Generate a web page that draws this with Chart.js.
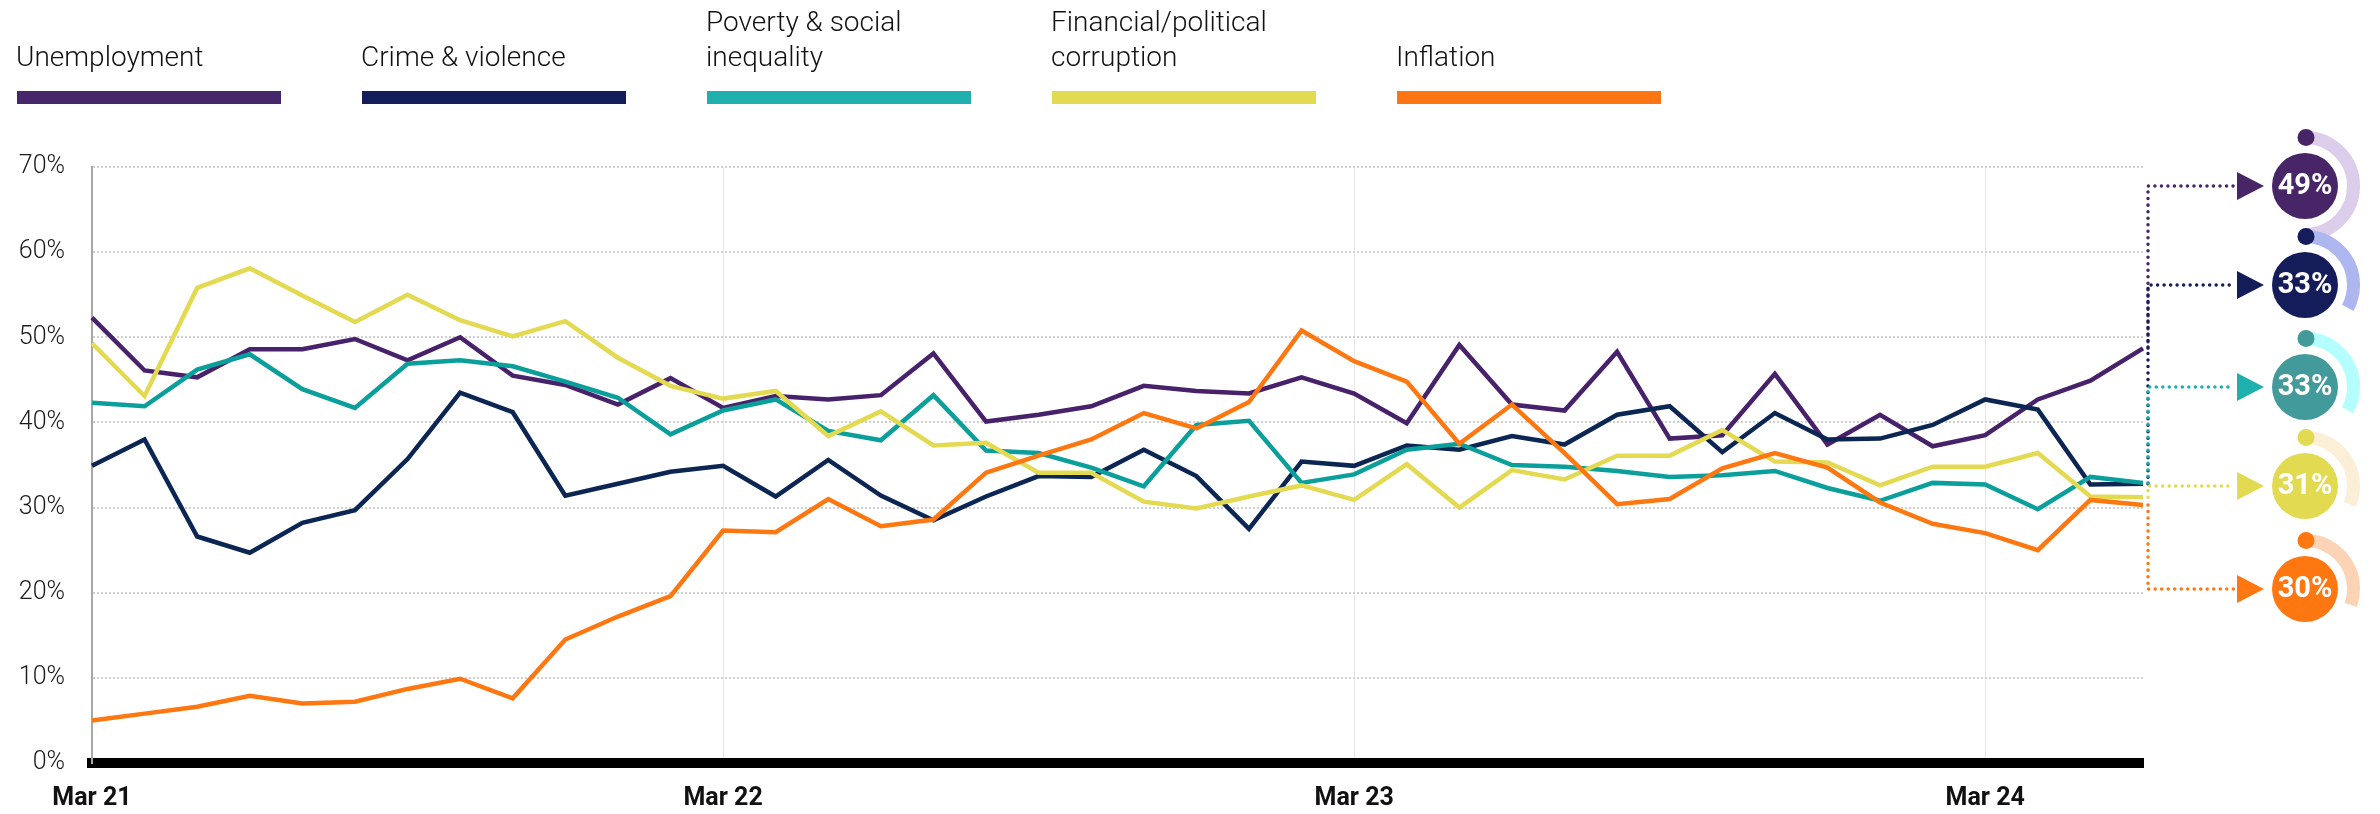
<!DOCTYPE html>
<html>
<head>
<meta charset="utf-8">
<script src="https://cdn.jsdelivr.net/npm/chart.js@4.4.1/dist/chart.umd.min.js"></script>
<style>
  html, body { margin: 0; padding: 0; background: #fff; }
  #wrap { position: relative; width: 2380px; height: 814px; }
</style>
</head>
<body>
<div id="wrap"><canvas id="chart"></canvas></div>
<script>
// Monthly readings, Mar 21 -> Jun 24
const months = [
    'Mar 21', 'Apr 21', 'May 21', 'Jun 21', 'Jul 21', 'Aug 21', 'Sep 21', 'Oct 21', 'Nov 21', 'Dec 21', 'Jan 22', 'Feb 22',
    'Mar 22', 'Apr 22', 'May 22', 'Jun 22', 'Jul 22', 'Aug 22', 'Sep 22', 'Oct 22', 'Nov 22', 'Dec 22', 'Jan 23', 'Feb 23',
    'Mar 23', 'Apr 23', 'May 23', 'Jun 23', 'Jul 23', 'Aug 23', 'Sep 23', 'Oct 23', 'Nov 23', 'Dec 23', 'Jan 24', 'Feb 24',
    'Mar 24', 'Apr 24', 'May 24', 'Jun 24'
];
const yearTicks = ['Mar 21', 'Mar 22', 'Mar 23', 'Mar 24'];

const seriesNames = ['Unemployment', 'Crime & violence', 'Poverty & social inequality', 'Financial/political corruption', 'Inflation'];
const legendLines = [['Unemployment'], ['Crime & violence'], ['Poverty & social', 'inequality'], ['Financial/political', 'corruption'], ['Inflation']];

const unemployment = [52.3, 46.1, 45.3, 48.6, 48.6, 49.8, 47.3, 50.0, 45.5, 44.4, 42.1, 45.2,
    41.7, 43.1, 42.7, 43.2, 48.1, 40.1, 40.9, 41.9, 44.3, 43.7, 43.4, 45.3,
    43.4, 39.9, 49.1, 42.1, 41.4, 48.3, 38.1, 38.5, 45.7, 37.4, 40.9, 37.2,
    38.5, 42.7, 44.9, 48.7];
const crime = [34.9, 38.0, 26.6, 24.7, 28.2, 29.7, 35.7, 43.5, 41.2, 31.4, 32.8, 34.2,
    34.9, 31.3, 35.6, 31.4, 28.5, 31.3, 33.7, 33.6, 36.8, 33.7, 27.5, 35.4,
    34.9, 37.3, 36.8, 38.4, 37.4, 40.9, 41.9, 36.5, 41.1, 38.0, 38.1, 39.7,
    42.7, 41.5, 32.7, 32.8];
const poverty = [42.3, 41.9, 46.2, 48.0, 43.9, 41.7, 46.9, 47.3, 46.6, 44.8, 42.9, 38.6,
    41.4, 42.7, 39.0, 37.9, 43.2, 36.7, 36.4, 34.7, 32.5, 39.7, 40.2, 32.9,
    33.9, 36.8, 37.5, 35.0, 34.8, 34.3, 33.6, 33.8, 34.3, 32.3, 30.8, 32.9,
    32.7, 29.8, 33.6, 32.9];
const corruption = [49.3, 43.1, 55.8, 58.1, 54.9, 51.8, 55.0, 52.0, 50.1, 51.9, 47.6, 44.3,
    42.8, 43.7, 38.4, 41.3, 37.3, 37.6, 34.1, 34.1, 30.7, 29.9, 31.3, 32.6,
    30.9, 35.1, 30.0, 34.4, 33.3, 36.1, 36.1, 39.1, 35.4, 35.3, 32.6, 34.8,
    34.8, 36.4, 31.3, 31.2];
const inflation = [5.0, 5.8, 6.6, 7.9, 7.0, 7.2, 8.7, 9.9, 7.6, 14.5, 17.2, 19.6,
    27.3, 27.1, 31.0, 27.8, 28.6, 34.1, 36.1, 38.0, 41.1, 39.3, 42.4, 50.8,
    47.2, 44.8, 37.5, 42.1, 36.4, 30.4, 31.0, 34.6, 36.4, 34.7, 30.6, 28.1,
    27.0, 25.0, 30.9, 30.3];

// colours
const lineColors = ['#47226b', '#0c2653', '#0a9f9b', '#e3da52', '#ff7711'];
const legendColors = ['#48266a', '#131d5a', '#1fafad', '#e2da50', '#fe7614'];
const badgeColors = ['#472567', '#141c5a', '#439a9a', '#e2da50', '#ff7711'];
const arrowColors = ['#472567', '#141c5a', '#1fb0ad', '#e2da50', '#ff7711'];
const ringColors = ['#dccdea', '#adb6ee', '#b4fefe', '#fbefd8', '#fdd3b5'];
const badgeY = [186, 285, 387, 486, 589];

const allSeries = [unemployment, crime, poverty, corruption, inflation];
const drawOrder = [5, 4, 3, 2, 1];

// Legend + end-of-line badges
const extras = {
    id: 'extras',
    afterDraw(chart) {
        const ctx = chart.ctx;
        const xs = chart.scales.x, ys = chart.scales.y;
        ctx.save();

        // legend
        legendLines.forEach((lines, i) => {
            const x = 17 + i * 345;
            ctx.fillStyle = legendColors[i];
            ctx.fillRect(x, 91, 264, 13);
            ctx.fillStyle = '#111';
            ctx.font = '300 28px Roboto';
            ctx.textAlign = 'left';
            ctx.textBaseline = 'alphabetic';
            lines.forEach((t, j) => ctx.fillText(t, x - 1, 66 - (lines.length - 1 - j) * 35));
        });

        // badges
        const last = months.length - 1;
        const vx = xs.getPixelForValue(last) + 5;
        const cx = 2305;
        allSeries.forEach((data, i) => {
            const yEnd = ys.getPixelForValue(data[last]);
            const cy = badgeY[i];

            ctx.setLineDash([0.01, 6.5]);
            ctx.lineCap = 'round';
            ctx.lineWidth = 3.5;
            ctx.strokeStyle = arrowColors[i];
            ctx.beginPath();
            ctx.moveTo(vx, yEnd);
            ctx.lineTo(vx, cy);
            ctx.lineTo(2234, cy);
            ctx.stroke();
            ctx.setLineDash([]);

            ctx.fillStyle = arrowColors[i];
            ctx.beginPath();
            ctx.moveTo(2237, cy - 14);
            ctx.lineTo(2264, cy);
            ctx.lineTo(2237, cy + 14);
            ctx.closePath();
            ctx.fill();

            // ring shows the share of a full turn
            ctx.lineCap = 'butt';
            ctx.lineWidth = 13;
            ctx.strokeStyle = ringColors[i];
            ctx.beginPath();
            ctx.arc(cx, cy, 48.5, -Math.PI / 2, -Math.PI / 2 + data[last] / 100 * Math.PI * 2);
            ctx.stroke();

            ctx.fillStyle = badgeColors[i];
            ctx.beginPath();
            ctx.arc(cx + 1, cy - 48.5, 8.5, 0, Math.PI * 2);
            ctx.fill();

            ctx.beginPath();
            ctx.arc(cx, cy, 33, 0, Math.PI * 2);
            ctx.fill();

            ctx.fillStyle = '#fff';
            ctx.font = 'bold 29px Roboto';
            ctx.textAlign = 'center';
            ctx.textBaseline = 'middle';
            ctx.fillText(Math.round(data[last]) + '%', cx, cy + 1);
        });
        ctx.restore();
    }
};

new Chart(document.getElementById('chart'), {
    type: 'line',
    data: {
        labels: months,
        datasets: allSeries.map((data, i) => ({
            label: seriesNames[i],
            data: data,
            borderColor: lineColors[i],
            backgroundColor: lineColors[i],
            borderWidth: 4.5,
            pointRadius: 0,
            tension: 0,
            order: drawOrder[i]
        }))
    },
    options: {
        responsive: true,
        maintainAspectRatio: false,
        animation: false,
        layout: { padding: { left: 0, right: 237, top: 167, bottom: 0 } },
        plugins: { legend: { display: false }, tooltip: { enabled: false } },
        scales: {
            x: {
                afterFit: (s) => { s.height = 51; },
                ticks: {
                    autoSkip: false,
                    maxRotation: 0,
                    padding: 21,
                    color: '#111',
                    font: { family: 'Roboto', size: 25, weight: 'bold' },
                    callback: function (v) {
                        const l = this.getLabelForValue(v);
                        return yearTicks.includes(l) ? l : '';
                    }
                },
                grid: {
                    drawTicks: false,
                    lineWidth: 1,
                    color: (c) => (c.tick && yearTicks.includes(months[c.tick.value])) ? '#e6e6e6' : 'rgba(0,0,0,0)'
                },
                border: { display: true, color: '#000', width: 10 }
            },
            y: {
                min: 0,
                max: 70,
                afterFit: (s) => { s.width = 92; },
                ticks: {
                    stepSize: 10,
                    padding: 27,
                    color: '#1a1a1a',
                    font: { family: 'Roboto', size: 25, weight: '300' },
                    callback: (v) => v + '%'
                },
                grid: { drawTicks: false, color: '#d0d0d0', lineWidth: 2 },
                border: { display: true, color: '#a8a8a8', width: 2, dash: [2, 2] }
            }
        }
    },
    plugins: [extras]
});
</script>
</body>
</html>
